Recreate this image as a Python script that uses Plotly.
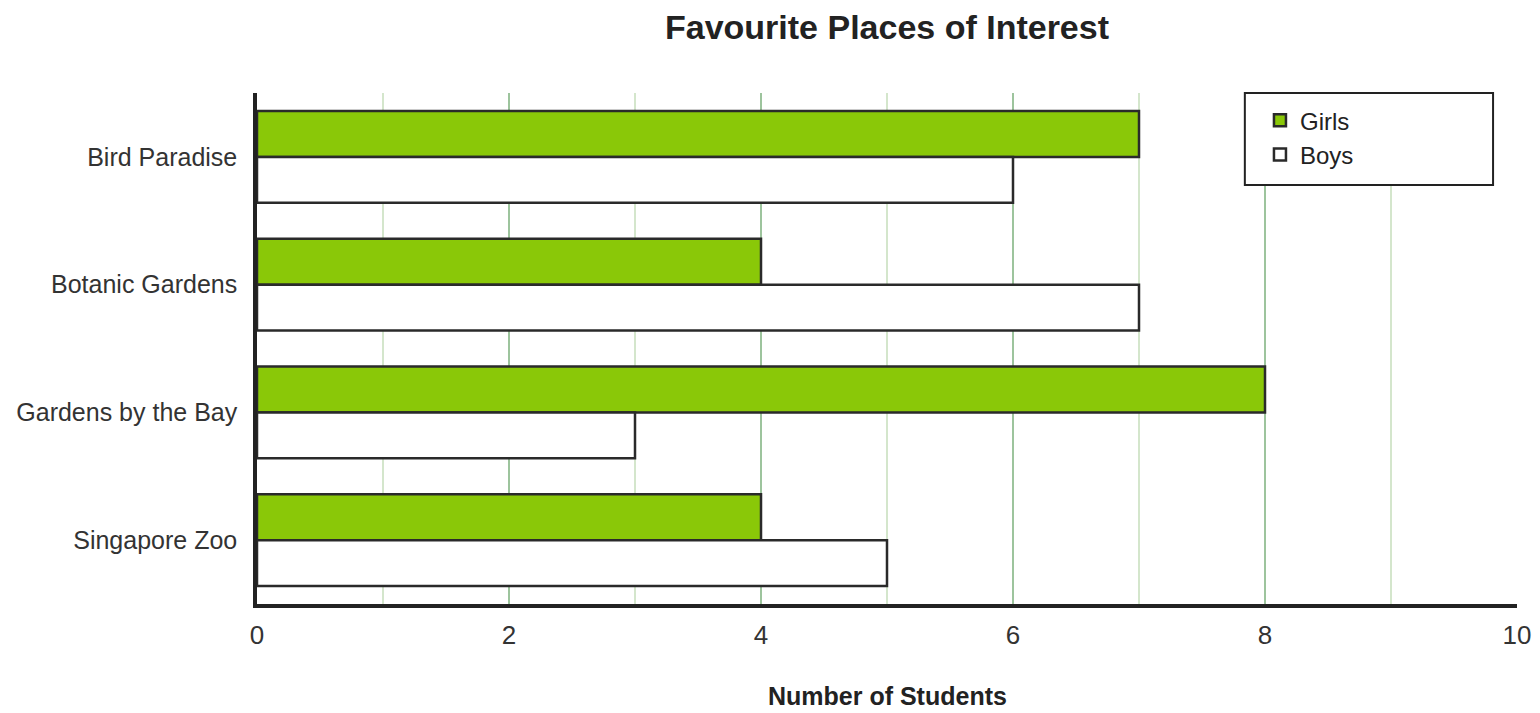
import plotly.graph_objects as go

places = ["Bird Paradise", "Botanic Gardens", "Gardens by the Bay", "Singapore Zoo"]
girls = [7, 4, 8, 4]
boys = [6, 7, 3, 5]

fig = go.Figure()
fig.add_trace(go.Bar(
    y=places, x=girls, name="Girls", orientation="h",
    marker=dict(color="#8ac808", line=dict(color="#2a2a2a", width=2.5)),
))
fig.add_trace(go.Bar(
    y=places, x=boys, name="Boys", orientation="h",
    marker=dict(color="#ffffff", line=dict(color="#2a2a2a", width=2.5)),
))

# legend frame, wider than plotly's own legend box
fig.add_shape(
    type="rect", xref="paper", yref="paper",
    x0=0.784, x1=0.981, y0=0.82, y1=1.0,
    line=dict(color="#222222", width=2), fillcolor="white", layer="above",
)

# x axis title placed by hand (standoff is ignored without automargin)
fig.add_annotation(
    text="<b>Number of Students</b>", xref="paper", yref="paper",
    x=0.5, y=-0.18, xanchor="center", yanchor="middle", showarrow=False,
    font=dict(size=25, color="#222222"),
)

fig.update_layout(
    width=1524, height=705,
    barmode="group", bargap=0.28, bargroupgap=0,
    plot_bgcolor="white", paper_bgcolor="white",
    font=dict(family="Arial, Liberation Sans, sans-serif", color="#333333"),
    margin=dict(l=249, r=15, t=85, b=109),
    title=dict(
        text="<b>Favourite Places of Interest</b>",
        x=0.5, xref="paper", xanchor="center",
        y=1 - 19 / 705, yref="container", yanchor="middle",
        font=dict(size=34, color="#222222"),
    ),
    legend=dict(
        x=0.796, y=0.99, xanchor="left", yanchor="top",
        borderwidth=0, bgcolor="rgba(0,0,0,0)",
        font=dict(size=24, color="#222222"), traceorder="normal",
        itemwidth=30,
    ),
    showlegend=True,
)
fig.update_xaxes(
    range=[0, 10], dtick=2, tick0=0,
    showgrid=True, gridcolor="#9dc49d", gridwidth=2,
    minor=dict(dtick=1, showgrid=True, gridcolor="#d4e6cc", gridwidth=2),
    showline=True, linecolor="#222222", linewidth=3.5,
    zeroline=False, ticks="", automargin=False,
    tickfont=dict(size=26, color="#333333"),
    ticklabelstandoff=5,
)
fig.update_yaxes(
    categoryorder="array", categoryarray=places, autorange="reversed",
    showgrid=False, showline=True, linecolor="#222222", linewidth=3.5,
    ticks="", automargin=False, tickfont=dict(size=25, color="#333333"),
    ticklabelstandoff=11,
)

fig.write_html("out.html")
